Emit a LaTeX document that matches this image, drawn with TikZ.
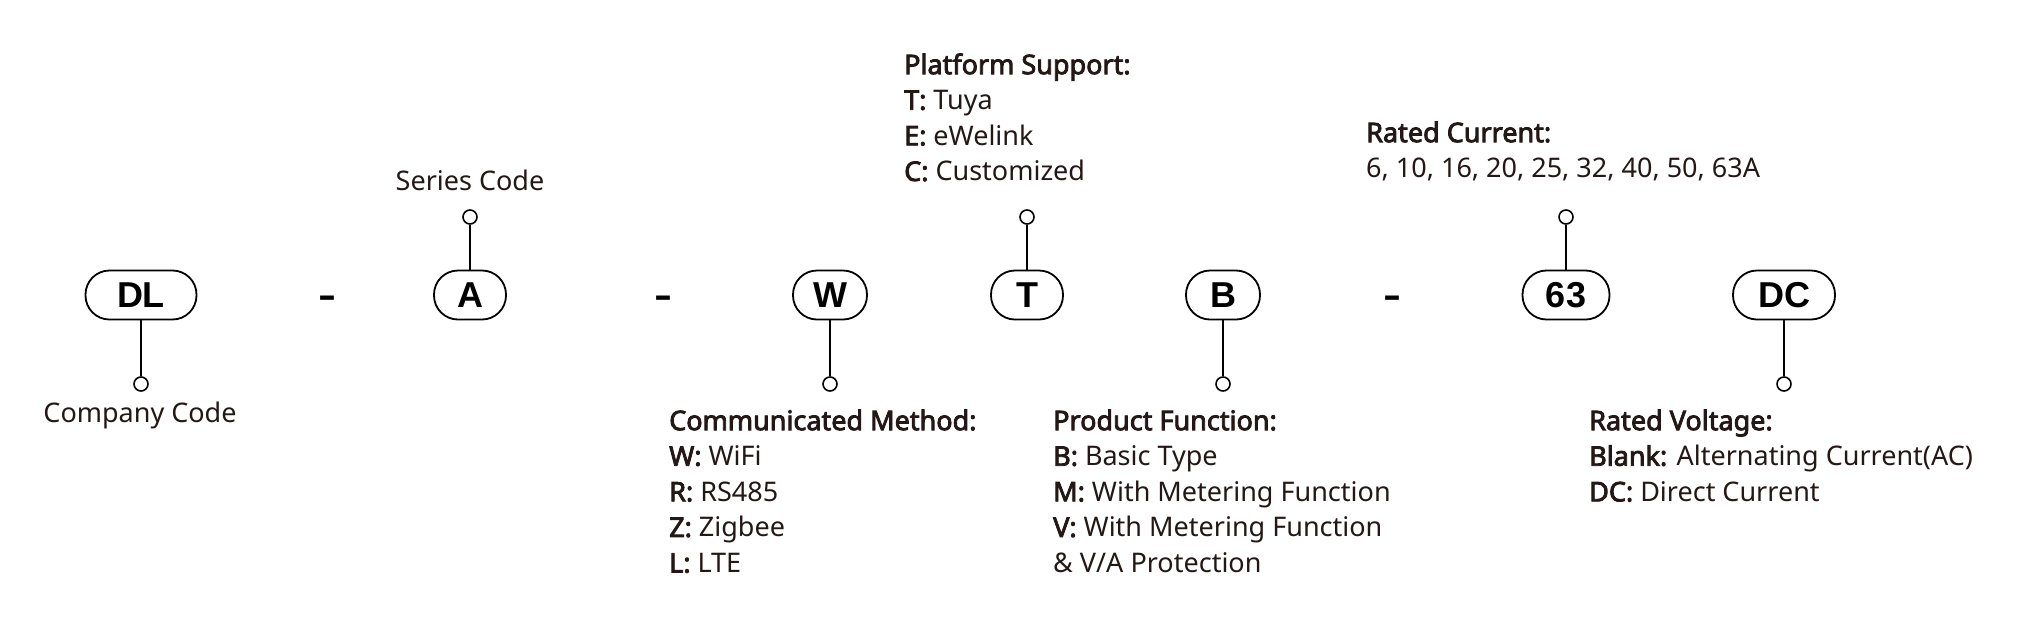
\documentclass[tikz,border=0pt]{standalone}
\usepackage{fontspec}
\setmainfont{Noto Sans}[BoldFont={Noto Sans}, BoldFeatures={FakeBold=3}]
\newfontfamily\boxfont{Liberation Sans}
\usetikzlibrary{positioning}
\definecolor{ink}{RGB}{35,24,21}
\tikzset{
	codebox/.style={draw, line width=1.8pt, rounded corners=24pt, minimum height=49pt, minimum width=#1, inner sep=0pt, font=\boxfont\fontsize{36}{40}\selectfont\bfseries},
	pin/.style={circle, draw, line width=1.6pt, minimum size=14pt, inner sep=0pt},
	stem/.style={line width=1.8pt},
	info/.style={anchor=north west, align=left, inner sep=0pt, text=ink, font=\fontsize{27}{35.6}\selectfont},
	caption/.style={anchor=base, inner sep=0pt, text=ink, font=\fontsize{27}{35.6}\selectfont},
	dashmark/.style={anchor=base, inner sep=0pt, font=\boxfont\fontsize{36}{40}\selectfont\bfseries}
}

\begin{document}
\begin{tikzpicture}[x=1pt, y=-1pt]
		%%%%% START %%%%%
		\useasboundingbox (0, 0) rectangle (2026, 641);
		
		\node[codebox=111pt] (dl) at (141, 295) {DL};
		\node[dashmark] (dash1) at (327, 307.5) {\scalebox{1.5}[1]{-}};
		\node[codebox=72pt] (a) at (470, 295) {A};
		\node[dashmark] (dash2) at (663, 307.5) {\scalebox{1.5}[1]{-}};
		\node[codebox=74pt] (w) at (830, 295) {W};
		\node[codebox=72pt] (t) at (1027, 295) {T};
		\node[codebox=74pt] (b) at (1223, 295) {B};
		\node[dashmark] (dash3) at (1392, 307.5) {\scalebox{1.5}[1]{-}};
		\node[codebox=87pt] (rc) at (1566, 295) {63};
		\node[codebox=102pt] (dc) at (1784, 295) {DC};
		
		% pins
		\node[pin] (dlpin) at (141, 384) {};
		\node[pin] (apin) at (470, 217) {};
		\node[pin] (wpin) at (830, 384) {};
		\node[pin] (tpin) at (1027, 217) {};
		\node[pin] (bpin) at (1223, 384) {};
		\node[pin] (rcpin) at (1566, 217) {};
		\node[pin] (dcpin) at (1784, 384) {};
		
		\draw[stem] (dl.south) -- (dlpin.north);
		\draw[stem] (a.north) -- (apin.south);
		\draw[stem] (w.south) -- (wpin.north);
		\draw[stem] (t.north) -- (tpin.south);
		\draw[stem] (b.south) -- (bpin.north);
		\draw[stem] (rc.north) -- (rcpin.south);
		\draw[stem] (dc.south) -- (dcpin.north);
		
		% texts
		\node[caption] (company) at (140, 422) {Company Code};
		\node[caption] (series) at (470, 190) {Series Code};
		
		\node[info] (platform) at (904, 49) {\strut\textbf{Platform Support:}\\\textbf{T:} Tuya\\\textbf{E:} eWelink\\\textbf{C:} Customized};
		\node[info] (current) at (1366, 117) {\strut\textbf{Rated Current:}\\6, 10, 16, 20, 25, 32, 40, 50, 63A};
		\node[info] (method) at (669, 405) {\strut\textbf{Communicated Method:}\\\textbf{W:} WiFi\\\textbf{R:} RS485\\\textbf{Z:} Zigbee\\\textbf{L:} LTE};
		\node[info] (function) at (1053, 405) {\strut\textbf{Product Function:}\\\textbf{B:} Basic Type\\\textbf{M:} With Metering Function\\\textbf{V:} With Metering Function\\\& V/A Protection};
		\node[info] (voltage) at (1589, 405) {\strut\textbf{Rated Voltage:}\\\textbf{Blank:} Alternating Current(AC)\\\textbf{DC:} Direct Current};
		
		%%%%% END %%%%%
	\end{tikzpicture}
\end{document}
